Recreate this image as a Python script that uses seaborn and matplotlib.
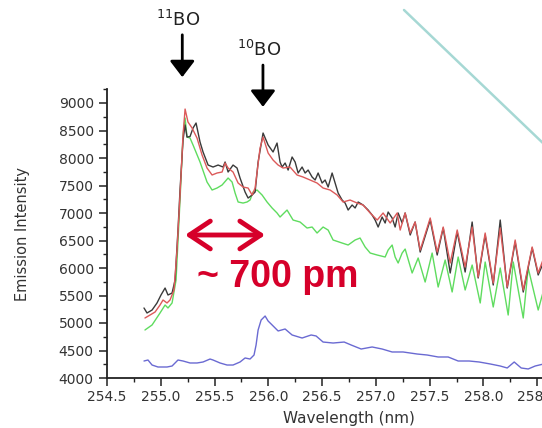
import numpy as np
import pandas as pd
import seaborn as sns
import matplotlib.pyplot as plt
from matplotlib.lines import Line2D
from matplotlib.ticker import MultipleLocator

# emission spectra (wavelength in nm, intensity in counts)
black_wl = [254.844, 254.872, 254.919, 254.965, 255.002, 255.040, 255.067, 255.105, 255.133, 255.160,
            255.179, 255.207, 255.226, 255.244, 255.272, 255.300, 255.328, 255.365, 255.393, 255.440,
            255.486, 255.533, 255.579, 255.598, 255.626, 255.672, 255.709, 255.737, 255.784, 255.812,
            255.849, 255.877, 255.905, 255.951, 255.998, 256.044, 256.081, 256.109, 256.128, 256.156,
            256.184, 256.221, 256.249, 256.277, 256.314, 256.342, 256.370, 256.407, 256.435, 256.463,
            256.500, 256.528, 256.556, 256.593, 256.621, 256.649, 256.686, 256.714, 256.742, 256.779,
            256.807, 256.835, 256.881, 256.928, 256.965, 256.993, 257.021, 257.058, 257.086, 257.114,
            257.151, 257.179, 257.207, 257.244, 257.272, 257.319, 257.365, 257.412, 257.505, 257.570,
            257.626, 257.691, 257.756, 257.830, 257.895, 257.951, 258.016, 258.091, 258.156, 258.221,
            258.295, 258.370, 258.453, 258.509, 258.560]
black_int = [5273, 5182, 5236, 5364, 5509, 5636, 5509, 5545, 5782, 6691,
             7418, 8327, 8600, 8381, 8390, 8545, 8636, 8290, 8109, 7872,
             7836, 7872, 7836, 7927, 7745, 7872, 7818, 7636, 7381, 7272,
             7327, 7381, 7927, 8454, 8236, 8109, 8272, 7927, 7836, 7909,
             7781, 8018, 7927, 7727, 7836, 7727, 7781, 7654, 7600, 7727,
             7545, 7600, 7472, 7727, 7545, 7363, 7236, 7181, 7054, 7145,
             7091, 7200, 7145, 7054, 6963, 6872, 6745, 6927, 6818, 7018,
             6909, 6745, 7000, 6818, 7000, 6600, 6836, 6290, 6872, 6236,
             6727, 5909, 6654, 5927, 6836, 5818, 6600, 5691, 6872, 5636,
             6473, 5563, 6364, 5873, 6109]

red_wl = [254.853, 254.900, 254.947, 254.993, 255.021, 255.058, 255.086, 255.123, 255.151, 255.179,
          255.207, 255.226, 255.253, 255.291, 255.337, 255.384, 255.430, 255.477, 255.523, 255.570,
          255.598, 255.626, 255.672, 255.719, 255.765, 255.812, 255.849, 255.877, 255.923, 255.951,
          255.998, 256.044, 256.091, 256.137, 256.202, 256.267, 256.323, 256.388, 256.453, 256.509,
          256.574, 256.640, 256.695, 256.760, 256.826, 256.881, 256.947, 257.012, 257.067, 257.133,
          257.198, 257.226, 257.272, 257.319, 257.365, 257.412, 257.505, 257.570, 257.626, 257.691,
          257.756, 257.830, 257.895, 257.951, 258.016, 258.091, 258.156, 258.221, 258.295, 258.370,
          258.453, 258.509, 258.560]
red_int = [5091, 5145, 5200, 5327, 5418, 5364, 5418, 5600, 6327, 7327,
           8418, 8890, 8654, 8545, 8363, 8054, 7818, 7691, 7727, 7745,
           7909, 7818, 7745, 7545, 7472, 7454, 7327, 7454, 8181, 8381,
           8091, 7963, 7872, 7818, 7836, 7691, 7654, 7600, 7545, 7454,
           7418, 7327, 7200, 7236, 7181, 7145, 7000, 6872, 7000, 6818,
           7000, 6690, 7000, 6636, 6836, 6327, 6909, 6290, 6745, 6091,
           6691, 6018, 6745, 5836, 6636, 5727, 6727, 5654, 6509, 5600,
           6382, 5909, 6182]

green_wl = [254.853, 254.919, 254.993, 255.040, 255.067, 255.105, 255.142, 255.179, 255.207, 255.226,
            255.244, 255.272, 255.300, 255.365, 255.430, 255.477, 255.523, 255.570, 255.626, 255.663,
            255.691, 255.719, 255.765, 255.802, 255.830, 255.858, 255.895, 255.942, 255.988, 256.035,
            256.081, 256.109, 256.174, 256.230, 256.295, 256.360, 256.407, 256.453, 256.509, 256.556,
            256.602, 256.686, 256.742, 256.807, 256.853, 256.900, 256.947, 257.012, 257.086, 257.114,
            257.151, 257.179, 257.207, 257.244, 257.272, 257.337, 257.393, 257.458, 257.523, 257.579,
            257.644, 257.709, 257.765, 257.830, 257.895, 257.970, 258.016, 258.091, 258.156, 258.230,
            258.277, 258.370, 258.416, 258.509, 258.560]
green_int = [4873, 4964, 5182, 5327, 5273, 5364, 5782, 7236, 8418, 8727,
             8381, 8363, 8236, 7927, 7563, 7418, 7454, 7509, 7636, 7563,
             7363, 7200, 7181, 7200, 7236, 7381, 7418, 7327, 7200, 7091,
             7000, 6927, 7054, 6872, 6836, 6727, 6745, 6636, 6745, 6690,
             6509, 6454, 6418, 6509, 6545, 6382, 6272, 6236, 6200, 6327,
             6418, 6200, 6091, 6272, 6345, 5909, 6182, 5745, 6272, 5654,
             6145, 5564, 6200, 5600, 6054, 5364, 6109, 5291, 6000, 5145,
             6109, 5091, 6000, 5236, 5600]

blue_wl = [254.844, 254.881, 254.919, 254.974, 255.058, 255.105, 255.160, 255.207, 255.272, 255.337,
           255.393, 255.458, 255.486, 255.551, 255.616, 255.672, 255.737, 255.784, 255.830, 255.867,
           255.886, 255.905, 255.933, 255.970, 255.998, 256.026, 256.091, 256.156, 256.221, 256.314,
           256.398, 256.444, 256.509, 256.602, 256.705, 256.770, 256.863, 256.965, 257.058, 257.151,
           257.253, 257.384, 257.477, 257.579, 257.672, 257.765, 257.867, 257.960, 258.063, 258.156,
           258.221, 258.286, 258.351, 258.416, 258.481, 258.560]
blue_int = [4309, 4327, 4236, 4200, 4200, 4218, 4327, 4309, 4273, 4273,
            4291, 4345, 4327, 4273, 4236, 4236, 4291, 4364, 4345, 4418,
            4600, 4873, 5054, 5127, 5036, 4982, 4855, 4891, 4782, 4727,
            4782, 4764, 4654, 4636, 4654, 4600, 4527, 4564, 4527, 4473,
            4473, 4436, 4418, 4382, 4382, 4309, 4309, 4291, 4255, 4218,
            4182, 4291, 4182, 4164, 4218, 4255]

series = {"blue": (blue_wl, blue_int), "green": (green_wl, green_int),
          "black": (black_wl, black_int), "red": (red_wl, red_int)}
palette = {"blue": "#6a6ad2", "green": "#5fdc5f", "black": "#3a3a3a", "red": "#dc5a5a"}

frames = []
for name, (wl, inten) in series.items():
    frames.append(pd.DataFrame({"wavelength": wl, "intensity": inten, "run": name}))
df = pd.concat(frames, ignore_index=True)

sns.set_style("ticks")
plt.rcParams["font.family"] = ["DejaVu Sans"]

W, H = 542, 428
fig = plt.figure(figsize=(W / 100, H / 100), dpi=100)
# axes runs past the right edge like the cropped original
ax = fig.add_axes([107 / W, 50 / H, 484 / W, 288.75 / H])

sns.lineplot(data=df, x="wavelength", y="intensity", hue="run", hue_order=list(series.keys()),
             palette=palette, estimator=None, sort=False, legend=False, lw=1.0, ax=ax)

ax.set_xlim(254.5, 259.0)
ax.set_ylim(4000, 9250)
ax.xaxis.set_major_locator(MultipleLocator(0.5))
ax.xaxis.set_minor_locator(MultipleLocator(0.25))
ax.yaxis.set_major_locator(MultipleLocator(500))
ax.yaxis.set_minor_locator(MultipleLocator(250))
ax.xaxis.set_major_formatter(plt.FormatStrFormatter("%.1f"))
sns.despine(ax=ax)
for s in ["left", "bottom"]:
    ax.spines[s].set_color("#222222")
    ax.spines[s].set_linewidth(1.3)
ax.tick_params(which="major", length=5.5, width=1.1, color="#222222", labelsize=10,
               labelcolor="#333333")
ax.tick_params(axis="y", which="major", pad=4)
ax.tick_params(axis="x", which="major", pad=3)
ax.tick_params(which="minor", length=3, width=1.0, color="#222222")

ax.set_xlabel("Wavelength (nm)", fontsize=11, color="#333333", labelpad=5)
ax.set_ylabel("Emission Intensity", fontsize=10.5, color="#333333")
ax.yaxis.set_label_coords(-0.16, 0.5)

# isotope markers
arrow_k = dict(arrowstyle="-|>,head_length=0.55,head_width=0.42", color="black", lw=2,
               mutation_scale=18, shrinkA=0, shrinkB=0)
ax.annotate("", xy=(255.20, 9470), xytext=(255.20, 10240), arrowprops=arrow_k,
            annotation_clip=False)
ax.annotate("", xy=(255.95, 8930), xytext=(255.95, 9690), arrowprops=arrow_k,
            annotation_clip=False)
ax.text(255.16, 10510, "$^{11}$BO", fontsize=13, ha="center", va="center", color="#222222")
ax.text(255.91, 9960, "$^{10}$BO", fontsize=13, ha="center", va="center", color="#222222")

# isotope shift
red_c = "#d6002a"
ax.annotate("", xy=(255.226, 6600), xytext=(255.97, 6600),
            arrowprops=dict(arrowstyle="<->,head_length=0.75,head_width=0.5", color=red_c,
                            lw=3.5, mutation_scale=20, shrinkA=0, shrinkB=0))
ax.text(255.337, 5654, "~ 700 pm", fontsize=27, fontweight="bold", color=red_c,
        family="Liberation Sans", ha="left", va="baseline")

# slide decoration line in the corner
fig.add_artist(Line2D([404 / W, 546 / W], [1 - 10 / H, 1 - 146 / H], color="#a6d8d4", lw=1.8,
                      transform=fig.transFigure))

fig.savefig("out.png", dpi=100)
